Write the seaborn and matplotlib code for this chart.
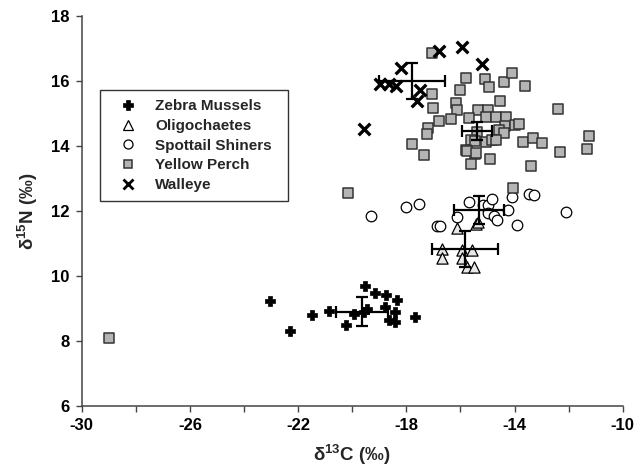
import matplotlib
matplotlib.use('Agg')
import matplotlib.pyplot as plt
from matplotlib.lines import Line2D
import seaborn as sns
import pandas as pd

# Isotope values (per mil)
zebra_x = [-23.04, -22.32, -21.49, -20.86, -20.22, -19.94, -19.54, -19.47, -19.57,
           -19.15, -18.77, -18.34, -18.78, -18.41, -18.64, -18.43, -17.69]
zebra_y = [9.23, 8.31, 8.81, 8.92, 8.49, 8.82, 9.70, 9.00, 8.88,
           9.47, 9.41, 9.26, 9.06, 8.88, 8.65, 8.58, 8.75]

oligo_x = [-16.12, -15.41, -15.35, -16.70, -16.70, -15.93, -15.93, -15.59, -15.75, -15.50]
oligo_y = [11.49, 11.59, 11.65, 10.84, 10.54, 10.80, 10.54, 10.80, 10.29, 10.29]

shiner_x = [-19.32, -18.01, -17.54, -16.86, -16.74, -16.11, -15.68, -15.16, -15.00, -14.83,
            -15.00, -14.75, -14.65, -14.26, -14.09, -13.90, -13.46, -13.27, -12.09]
shiner_y = [11.86, 12.13, 12.22, 11.53, 11.54, 11.81, 12.27, 12.19, 12.19, 12.37,
            11.95, 11.85, 11.72, 12.03, 12.44, 11.56, 12.54, 12.50, 11.96]

perch_x = [-28.99, -20.16, -17.07, -15.79, -15.09, -14.95, -14.38, -14.09, -13.60, -16.03,
           -17.07, -16.15, -16.12, -17.00, -14.53, -12.40, -15.35, -14.99, -15.07, -15.70,
           -14.67, -14.33, -14.36, -13.98, -13.83, -16.36, -16.78, -17.19, -17.22, -17.79,
           -17.36, -15.38, -14.59, -14.38, -15.62, -15.47, -15.07, -14.83, -14.70, -13.70,
           -13.33, -13.00, -12.33, -11.24, -11.32, -15.79, -15.47, -15.62, -14.90, -13.38,
           -14.07, -15.75, -15.43]
perch_y = [8.09, 12.56, 16.85, 16.08, 16.05, 15.82, 15.97, 16.26, 15.86, 15.72,
           15.61, 15.34, 15.11, 15.16, 15.40, 15.14, 15.10, 15.10, 14.90, 14.86,
           14.88, 14.88, 14.63, 14.66, 14.68, 14.82, 14.76, 14.57, 14.36, 14.05,
           13.74, 14.44, 14.49, 14.41, 14.18, 14.16, 14.13, 14.18, 14.20, 14.11,
           14.24, 14.08, 13.82, 14.30, 13.91, 13.89, 13.77, 13.45, 13.59, 13.38,
           12.72, 13.86, 13.78]

walleye_x = [-19.58, -18.96, -18.65, -18.37, -18.19, -17.48, -17.59, -16.80, -15.96, -15.22]
walleye_y = [14.54, 15.91, 15.91, 15.86, 16.39, 15.74, 15.39, 16.92, 17.04, 16.54]

# Group means and error bars
species = ['Zebra Mussels', 'Oligochaetes', 'Spottail Shiners', 'Yellow Perch', 'Walleye']
mean_x = [-19.63, -15.84, -15.31, -15.38, -17.78]
mean_y = [8.90, 10.83, 12.03, 14.46, 16.01]
err_x = [0.96, 1.22, 0.93, 0.55, 1.22]
err_y = [0.45, 0.55, 0.42, 0.28, 0.55]

sns.set_style('ticks')
plt.rcParams['font.family'] = ['Liberation Sans', 'DejaVu Sans']
plt.rcParams['font.weight'] = 'bold'
plt.rcParams['mathtext.fontset'] = 'custom'
plt.rcParams['mathtext.rm'] = 'Liberation Sans:bold'
plt.rcParams['mathtext.bf'] = 'Liberation Sans:bold'

fig = plt.figure(figsize=(6.44, 4.74), dpi=100)
ax = fig.add_axes([0.127, 0.1435, 0.840, 0.8225])

'''
Scatter each group separately (filled and line-art markers can't be mixed)
'''
styles = {
    'Zebra Mussels': dict(marker='P', s=60, color='black', edgecolor='black', linewidth=0.5),
    'Oligochaetes': dict(marker='^', s=65, color='#e8e8e8', edgecolor='black', linewidth=0.9),
    'Spottail Shiners': dict(marker='o', s=58, color='white', edgecolor='black', linewidth=0.9),
    'Yellow Perch': dict(marker='s', s=46, color='#b4b4b4', edgecolor='#333333', linewidth=1.1),
    'Walleye': dict(marker='x', s=70, color='black', linewidth=2.4),
}
groups = [(zebra_x, zebra_y), (oligo_x, oligo_y), (shiner_x, shiner_y),
          (perch_x, perch_y), (walleye_x, walleye_y)]

for name, (xs, ys) in zip(species, groups):
    df = pd.DataFrame({'d13C': xs, 'd15N': ys})
    sns.scatterplot(data=df, x='d13C', y='d15N', ax=ax, legend=False, zorder=2, **styles[name])

# Mean +/- error crosses
ax.errorbar(mean_x, mean_y, xerr=err_x, yerr=err_y, fmt='none', ecolor='black',
            elinewidth=1.6, capsize=4, capthick=1.6, zorder=3)

# Axes formatting
ax.set_xlim(-30, -10)
ax.set_ylim(6, 18)
ax.set_xticks(range(-30, -9, 2))
ax.set_xticklabels([str(t) if (t + 30) % 4 == 0 else '' for t in range(-30, -9, 2)])
ax.set_yticks(range(6, 19, 2))
ax.tick_params(direction='out', length=4, width=1, colors='#444444', labelcolor='black',
               labelsize=12, pad=5)
for lab in ax.get_xticklabels() + ax.get_yticklabels():
    lab.set_fontweight('bold')
sns.despine(ax=ax)
for side in ['left', 'bottom']:
    ax.spines[side].set_color('#444444')
    ax.spines[side].set_linewidth(1.1)

ax.set_xlabel(r'δ$^{\mathbf{13}}$C (‰)', fontsize=13.5, fontweight='bold', labelpad=6)
ax.set_ylabel(r'δ$^{\mathbf{15}}$N (‰)', fontsize=13.5, fontweight='bold', labelpad=8)

# Legend
handles = []
for name in species:
    st = styles[name]
    handles.append(Line2D([], [], linestyle='none', marker=st['marker'],
                          markersize=6.5 if name != 'Yellow Perch' else 5.5,
                          markerfacecolor='white' if name == 'Oligochaetes' else st['color'],
                          markeredgecolor=st.get('edgecolor', 'black'),
                          markeredgewidth=st['linewidth'] if name != 'Walleye' else 2.0,
                          color='black'))
leg = ax.legend(handles, species, loc='upper left', bbox_to_anchor=(0.0336, 0.81, 0.3475, 0),
                mode='expand', borderaxespad=0, frameon=True, fancybox=False, fontsize=11,
                labelspacing=0.37, handletextpad=0.54, borderpad=0.6, handlelength=2.46)
leg.get_frame().set_edgecolor('black')
leg.get_frame().set_linewidth(1.0)
for t in leg.get_texts():
    t.set_fontweight('bold')

fig.savefig('out.png', dpi=100)
